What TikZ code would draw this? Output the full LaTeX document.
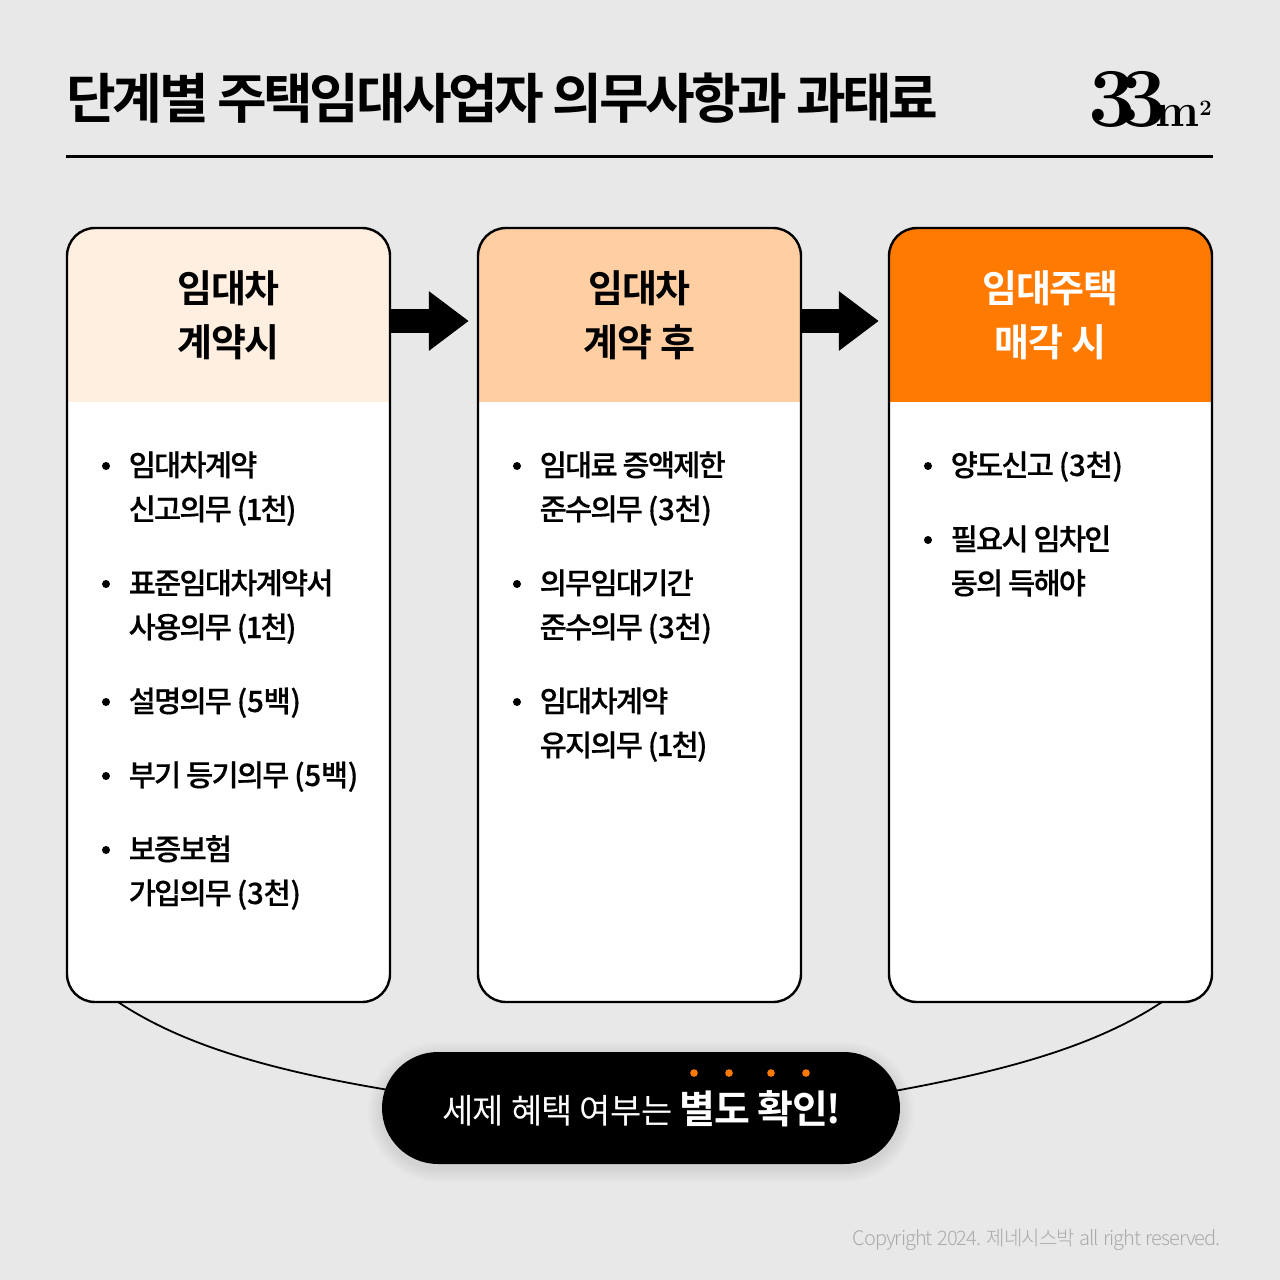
\documentclass[tikz,border=0pt]{standalone}
\usepackage{fontspec}
\usetikzlibrary{arrows.meta}
\newfontfamily\krtitle{Noto Sans CJK KR Bold}[LetterSpace=-6.5]
\newfontfamily\krbold{Noto Sans CJK KR Bold}[LetterSpace=-3]
\newfontfamily\krmed{Noto Sans CJK KR Medium}[LetterSpace=-6, FakeBold=0.35]
\newfontfamily\krreg{Noto Sans CJK KR}[LetterSpace=-2]
\newfontfamily\krlight{Noto Sans CJK KR Light}[LetterSpace=-5, WordSpace=1.3]
\newcommand{\widefine}[1]{{\addfontfeature{LetterSpace=-1}(#1)}}
\definecolor{pagebg}{HTML}{E8E8E8}
\definecolor{headA}{HTML}{FFEFE0}
\definecolor{headB}{HTML}{FFCFA3}
\definecolor{headC}{HTML}{FF7A00}
\definecolor{copygray}{HTML}{ABABAB}
\tikzset{
  cardbox/.style={draw=black, line width=2.4pt, fill=white, rounded corners=28pt, inner sep=0pt,
    minimum width=323pt, minimum height=774pt,
    path picture={\fill[#1, sharp corners] (path picture bounding box.north west) rectangle ([yshift=-174pt]path picture bounding box.north east);}},
  headtext/.style={font=\krbold\fontsize{38}{54.5}\selectfont, align=center, inner sep=0pt},
  itemtext/.style={font=\krmed\fontsize{29.5}{44}\selectfont, align=left, anchor=north west, inner sep=0pt},
  blockarrow/.style={line width=24pt, -{Triangle[length=40pt, width=57pt]}},
  linkcurve/.style={line width=1.8pt}
}
\begin{document}
\begin{tikzpicture}[x=1pt, y=-1pt]
  \useasboundingbox (0,0) rectangle (1280,1280);
  \fill[pagebg] (0,0) rectangle (1280,1280);
  % title
  \node[anchor=base west, inner sep=0pt, font=\krtitle\fontsize{54}{54}\selectfont] (title) at (66.5,118) {단계별 주택임대사업자 의무사항과 과태료};
  \node[anchor=base east, inner sep=0pt] (logo) at (1212,126) {\bfseries\addfontfeature{FakeBold=2.4}\fontsize{84}{84}\selectfont 3\kern-17pt 3\kern-11pt\addfontfeature{FakeBold=1}\fontsize{47}{47}\selectfont m\raisebox{11pt}{\fontsize{22}{22}\selectfont 2}};
  \coordinate (ruleL) at (66,156);
  \coordinate (ruleR) at (1213,156);
  \draw[line width=3pt] (ruleL) -- (ruleR);
  % cards
  \node[cardbox=headA] (cardA) at (228.5,615) {};
  \node[cardbox=headB] (cardB) at (639.5,615) {};
  \node[cardbox=headC] (cardC) at (1050.5,615) {};
  \node[headtext] (headA) at (228.5,315.5) {임대차\\계약시};
  \node[headtext] (headB) at (639.5,315.5) {임대차\\계약 후};
  \node[headtext, text=white] (headC) at (1050.5,315.5) {임대주택\\매각 시};
  % arrows
  \draw[blockarrow, shorten >=8pt] (cardA.east |- 0,321) -- (cardB.west |- 0,321);
  \draw[blockarrow, shorten >=9pt] (cardB.east |- 0,321) -- (cardC.west |- 0,321);
  % items
  \foreach \y/\txt in {445/{임대차계약\\신고의무 (1천)}, 563/{표준임대차계약서\\사용의무 (1천)}, 681/{설명의무 \widefine{5백}}, 755/{부기 등기의무 \widefine{5백}}, 829/{보증보험\\가입의무 \widefine{3천}}}{
    \fill (106,\y+21) circle (4);
    \node[itemtext] (itemA\y) at (128.5,\y) {\strut\txt};
  }
  \foreach \y/\txt in {445/{임대료 증액제한\\준수의무 \widefine{3천}}, 563/{의무임대기간\\준수의무 \widefine{3천}}, 681/{임대차계약\\유지의무 (1천)}}{
    \fill (517,\y+21) circle (4);
    \node[itemtext] (itemB\y) at (539.5,\y) {\strut\txt};
  }
  \foreach \y/\txt in {445/{양도신고 \widefine{3천}}, 519/{필요시 임차인\\동의 득해야}}{
    \fill (928,\y+21) circle (4);
    \node[itemtext] (itemC\y) at (950.5,\y) {\strut\txt};
  }
  % curves to the pill
  \coordinate (curveL) at (118,1002);
  \coordinate (curveR) at (1162,1002);
  \coordinate (pillC) at (641,1108);
  \draw[linkcurve] (curveL) .. controls (190,1050) and (290,1075) .. (420,1095);
  \draw[linkcurve] (curveR) .. controls (1090,1050) and (990,1075) .. (860,1097);
  % soft shadow
  \foreach \g in {14,12,...,2}{
    \fill[black, opacity=0.012, rounded corners=56pt+\g pt] (382-\g,1056-\g) rectangle (900+\g,1168+\g);
  }
  % pill
  \node[fill=black, rounded corners=56pt, minimum width=518pt, minimum height=112pt, inner sep=0pt, text=white] (pill) at (pillC) {};
  \node[anchor=base west, inner sep=0pt, text=white] (pilltext) at (442,1123.5) {\krreg\fontsize{34}{34}\selectfont 세제 혜택 여부는 \krbold\fontsize{39}{39}\selectfont 별도 확인!};
  \foreach \x in {694,729,771,806}{
    \fill[headC] (\x,1073) circle (3.8);
  }
  % copyright
  \node[anchor=base east, inner sep=0pt, text=copygray, font=\krlight\fontsize{20}{20}\selectfont] (copy) at (1221,1245) {Copyright 2024. 제네시스박 all right reserved.};
\end{tikzpicture}
\end{document}
